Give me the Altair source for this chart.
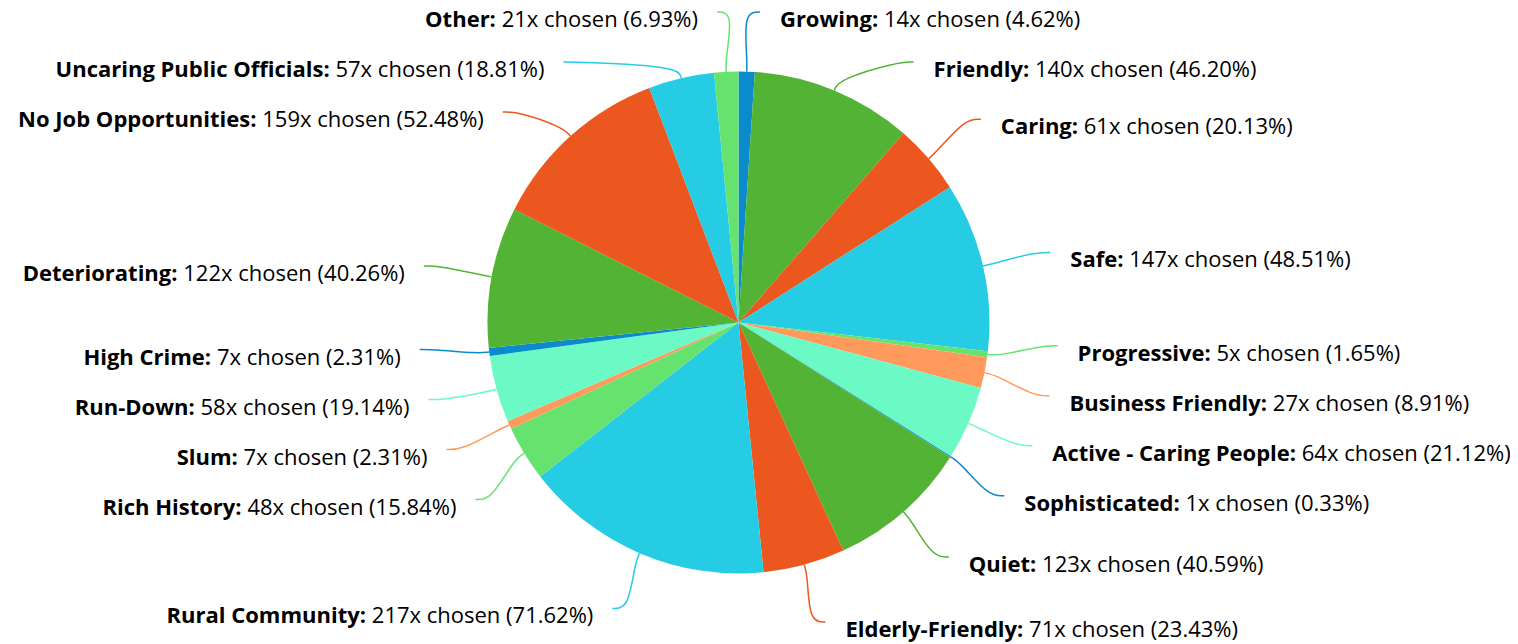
import math, glob, os, struct
import altair as alt
import pandas as pd

# ---------------- data ----------------
categories = ["Growing", "Friendly", "Caring", "Safe", "Progressive", "Business Friendly",
              "Active - Caring People", "Sophisticated", "Quiet", "Elderly-Friendly",
              "Rural Community", "Rich History", "Slum", "Run-Down", "High Crime",
              "Deteriorating", "No Job Opportunities", "Uncaring Public Officials", "Other"]
counts = [14, 140, 61, 147, 5, 27, 64, 1, 123, 71, 217, 48, 7, 58, 7, 122, 159, 57, 21]
respondents = 303
palette = ["#0b8bcb", "#52b335", "#eb571f", "#26cbe4", "#66e36f", "#ff9a5c", "#6bf9c6"]

# ---------------- layout constants ----------------
W, H = 1502, 636
CX, CY = 730.5, 314.5          # pie centre inside plot
R = 251                        # pie radius
LX, LY = 320, 311.2            # label anchor ellipse
LABEL_TOP, LABEL_BOTTOM = 4, 614
FS = 22
GAP = 50
FONT = "Open Sans"

# ---------------- font metrics ----------------
def load_metrics(path):
    data = open(path, "rb").read()
    num = struct.unpack(">H", data[4:6])[0]
    tables = {}
    for i in range(num):
        tag, cs, off, ln = struct.unpack(">4sIII", data[12 + 16 * i:28 + 16 * i])
        tables[tag.decode("latin1")] = off
    head = tables["head"]
    upem = struct.unpack(">H", data[head + 18:head + 20])[0]
    hhea = tables["hhea"]
    nhm = struct.unpack(">H", data[hhea + 34:hhea + 36])[0]
    hm = tables["hmtx"]
    adv = [struct.unpack(">H", data[hm + 4 * i:hm + 4 * i + 2])[0] for i in range(nhm)]
    cm = tables["cmap"]
    nsub = struct.unpack(">H", data[cm + 2:cm + 4])[0]
    for i in range(nsub):
        pid, eid, off = struct.unpack(">HHI", data[cm + 4 + 8 * i:cm + 12 + 8 * i])
        st = cm + off
        fmt = struct.unpack(">H", data[st:st + 2])[0]
        if fmt == 4 and pid in (0, 3):
            segx2 = struct.unpack(">H", data[st + 6:st + 8])[0]
            seg = segx2 // 2
            ends = struct.unpack(">%dH" % seg, data[st + 14:st + 14 + segx2])
            starts = struct.unpack(">%dH" % seg, data[st + 16 + segx2:st + 16 + 2 * segx2])
            deltas = struct.unpack(">%dh" % seg, data[st + 16 + 2 * segx2:st + 16 + 3 * segx2])
            rp = st + 16 + 3 * segx2
            roffs = struct.unpack(">%dH" % seg, data[rp:rp + segx2])

            def gid(c, ends=ends, starts=starts, deltas=deltas, roffs=roffs, rp=rp):
                for k in range(seg):
                    if starts[k] <= c <= ends[k]:
                        if roffs[k] == 0:
                            return (c + deltas[k]) & 0xFFFF
                        addr = rp + 2 * k + roffs[k] + 2 * (c - starts[k])
                        g = struct.unpack(">H", data[addr:addr + 2])[0]
                        return (g + deltas[k]) & 0xFFFF if g else 0
                return 0

            def width(s, size):
                tot = 0
                for ch in s:
                    g = gid(ord(ch))
                    tot += adv[min(g, nhm - 1)]
                return tot * size / upem
            return width
    raise ValueError("no cmap")


def find_font_files():
    pats = ["/usr/share/fonts/**/*.tt[fc]", "/usr/local/share/fonts/**/*.tt[fc]",
            os.path.expanduser("~/.fonts/**/*.tt[fc]"),
            os.path.expanduser("~/.local/share/fonts/**/*.tt[fc]")]
    files = []
    for p in pats:
        files += glob.glob(p, recursive=True)
    return sorted(files)


reg_path = bold_path = None
for f in find_font_files():
    b = os.path.basename(f).lower().replace("-", "").replace("_", "").replace(" ", "")
    if not b.startswith("opensans"):
        continue
    if any(k in b for k in ("italic", "cond", "semibold", "extrabold", "light", "medium")):
        continue
    if "bold" in b:
        bold_path = bold_path or f
    elif "regular" in b or b == "opensans.ttf":
        reg_path = reg_path or f

try:
    w_reg = load_metrics(reg_path)
except Exception:
    w_reg = lambda s, size: len(s) * size * 0.55
try:
    w_bold = load_metrics(bold_path)
except Exception:
    w_bold = lambda s, size: w_reg(s, size) * 1.06

# ---------------- label layout ----------------
total = sum(counts)
items = []
cum = 0
for i, (c, n) in enumerate(zip(categories, counts)):
    a = (cum + n / 2) / total * 2 * math.pi
    cum += n
    items.append(dict(idx=i, cat=c, n=n, a=a, right=a < math.pi, target=-LY * math.cos(a)))

lo, hi = LABEL_TOP - CY, LABEL_BOTTOM - CY


def distribute(targets):
    clusters = [[t] for t in targets]

    def start(cl):
        s = sum(cl) / len(cl) - (len(cl) - 1) * GAP / 2
        return max(lo, min(s, hi - (len(cl) - 1) * GAP))
    changed = True
    while changed:
        changed = False
        for k in range(len(clusters) - 1):
            e = start(clusters[k]) + (len(clusters[k]) - 1) * GAP
            if start(clusters[k + 1]) - e < GAP - 1e-9:
                clusters[k] = clusters[k] + clusters[k + 1]
                del clusters[k + 1]
                changed = True
                break
    out = []
    for cl in clusters:
        s = start(cl)
        out += [s + j * GAP for j in range(len(cl))]
    return out


for side in (True, False):
    grp = sorted([it for it in items if it["right"] == side], key=lambda d: d["target"])
    ys_ = distribute([g["target"] for g in grp])
    for g, y in zip(grp, ys_):
        g["dy"] = y

line_rows, text_rows = [], []
for it in items:
    a, s = it["a"], (1 if it["right"] else -1)
    dy = it["dy"]
    ex = CX + s * LX * math.sqrt(max(0.0, 1 - (dy / LY) ** 2))
    ey = CY + dy
    pts = [(CX + R * math.sin(a), CY - R * math.cos(a)),
           (CX + (R + 12) * math.sin(a), CY - (R + 12) * math.cos(a)),
           (ex - s * 16, ey),
           (ex, ey)]
    for k, (px, py) in enumerate(pts):
        line_rows.append(dict(cat=it["cat"], k=k, px=px, py=py))
    bold = it["cat"] + ":"
    rest = "%dx chosen (%.2f%%)" % (it["n"], it["n"] / respondents * 100)
    sp = w_reg(" ", FS)
    if it["right"]:
        bx = ex + 20                      # start of bold part
        rx = bx + w_bold(bold, FS) + sp   # start of regular part
    else:
        rx = ex - 19                      # end of regular part
        bx = rx - w_reg(rest, FS) - sp    # end of bold part
    text_rows.append(dict(cat=it["cat"], side="R" if it["right"] else "L",
                          bold=bold, rest=rest, bx=bx, rx=rx, ty=ey + 15))

pie_df = pd.DataFrame({"cat": categories, "n": counts, "idx": list(range(len(categories)))})
line_df = pd.DataFrame(line_rows)
text_df = pd.DataFrame(text_rows)

color_scale = alt.Scale(domain=categories, range=[palette[i % len(palette)] for i in range(len(categories))])
xs = alt.Scale(domain=[0, W], nice=False, zero=False)
ys = alt.Scale(domain=[0, H], reverse=True, nice=False, zero=False)

pie = alt.Chart(pie_df).mark_arc(outerRadius=R).encode(
    theta=alt.Theta("n:Q", stack=True),
    color=alt.Color("cat:N", scale=color_scale, legend=None),
    order=alt.Order("idx:Q"),
    x=alt.value(CX), y=alt.value(CY),
)

lines = alt.Chart(line_df).mark_line(interpolate="basis", strokeWidth=1.5).encode(
    x=alt.X("px:Q", scale=xs, axis=None),
    y=alt.Y("py:Q", scale=ys, axis=None),
    color=alt.Color("cat:N", scale=color_scale, legend=None),
    detail="cat:N",
    order="k:Q",
)


def text_layer(side, field, xfield, weight, align):
    return alt.Chart(text_df).transform_filter(alt.datum.side == side).mark_text(
        font=FONT, fontSize=FS, fontWeight=weight, align=align, baseline="alphabetic", color="#000000"
    ).encode(
        x=alt.X(xfield + ":Q", scale=xs, axis=None),
        y=alt.Y("ty:Q", scale=ys, axis=None),
        text=field + ":N",
    )


texts = [
    text_layer("R", "bold", "bx", "bold", "left"),
    text_layer("R", "rest", "rx", "normal", "left"),
    text_layer("L", "bold", "bx", "bold", "right"),
    text_layer("L", "rest", "rx", "normal", "right"),
]

chart = alt.layer(lines, pie, *texts).properties(
    width=W, height=H, padding=0, autosize=alt.AutoSizeParams(type="none")
).configure_view(stroke=None)

chart.save("out.html", embed_options={"renderer": "svg", "actions": False})
